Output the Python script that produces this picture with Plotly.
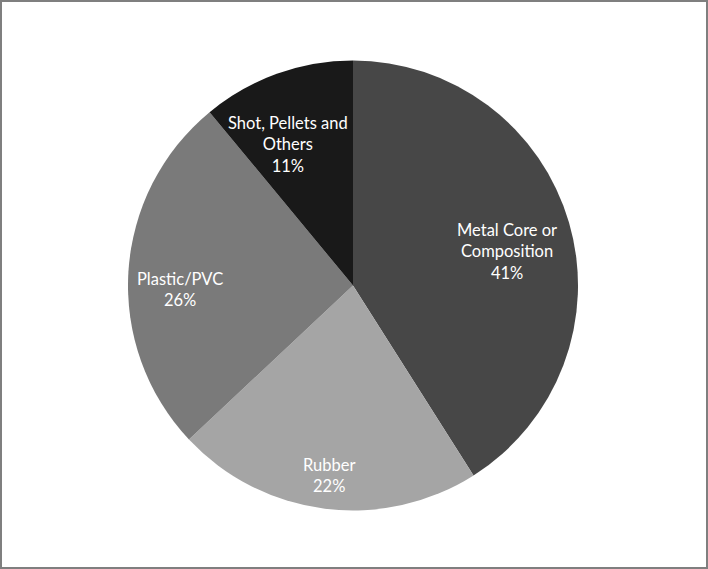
import math
import plotly.graph_objects as go

# fatias, no sentido horario a partir das 12 horas
categorias = ['Metal Core or<br>Composition', 'Rubber', 'Plastic/PVC', 'Shot, Pellets and<br>Others']
valores = [41, 22, 26, 11]
cores = ['#474747', '#a5a5a5', '#7a7a7a', '#191919']

W, H = 708, 569
cx, cy, R = 353, 285.5, 225  # centro e raio da pizza em pixels

# posicao dos rotulos (fracao do raio, ajuste de angulo em graus) - estilo Excel
rotulo_raio = [0.70, 0.85, 0.77, 0.69]
rotulo_ajuste = [3.7, 0, -4.8, -5.1]

fig = go.Figure(go.Pie(
    labels=categorias,
    values=valores,
    sort=False,
    direction='clockwise',
    rotation=0,
    marker=dict(colors=cores, line=dict(width=0)),
    textinfo='none',
    hoverinfo='label+percent',
    domain=dict(x=[(cx - R) / W, (cx + R) / W], y=[1 - (cy + R) / H, 1 - (cy - R) / H]),
    showlegend=False,
))

# rotulos dentro das fatias
total = sum(valores)
acumulado = 0
for cat, v, rr, da in zip(categorias, valores, rotulo_raio, rotulo_ajuste):
    meio = (acumulado + v / 2) / total * 360 + da
    acumulado += v
    px_ = cx + rr * R * math.sin(math.radians(meio))
    py_ = cy - rr * R * math.cos(math.radians(meio))
    fig.add_annotation(
        x=px_ / W, y=1 - py_ / H, xref='paper', yref='paper',
        text=f'{cat}<br>{v / total:.0%}', showarrow=False,
        font=dict(family='Lato, Open Sans, sans-serif', size=16.5, color='white'),
        align='center', xanchor='center', yanchor='middle',
    )

# moldura cinza em volta da figura
fig.add_shape(type='rect', xref='paper', yref='paper', x0=0, y0=0, x1=1, y1=1,
              line=dict(color='#7f7f7f', width=4))

fig.update_layout(
    width=W, height=H,
    margin=dict(l=0, r=0, t=0, b=0),
    paper_bgcolor='white',
    plot_bgcolor='white',
)

fig.write_html('out.html', config={'displayModeBar': False},
               post_script="document.body.style.margin='0';document.body.style.overflow='hidden';")
